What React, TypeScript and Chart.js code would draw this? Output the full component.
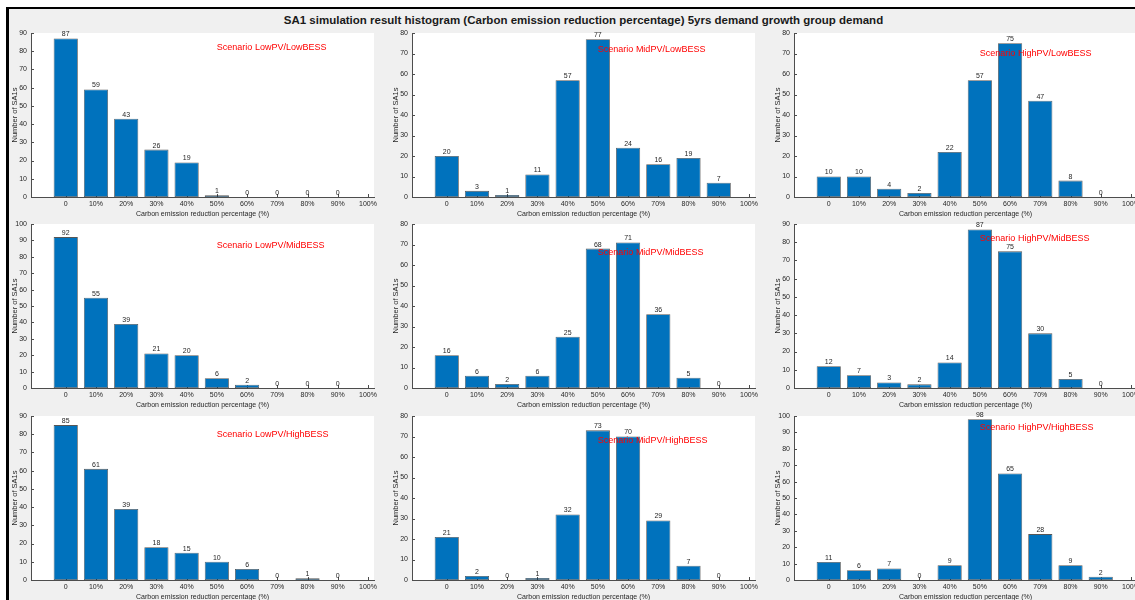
import React, { useEffect, useRef } from 'react';
import { Chart, registerables } from 'chart.js';

Chart.register(...registerables);

// ---------- data ----------
const xLabels = ['0', '10%', '20%', '30%', '40%', '50%', '60%', '70%', '80%', '90%', '100%'];
const binIndex = [0, 1, 2, 3, 4, 5, 6, 7, 8, 9];

const lowPVLowBESS = [87, 59, 43, 26, 19, 1, 0, 0, 0, 0];
const midPVLowBESS = [20, 3, 1, 11, 57, 77, 24, 16, 19, 7];
const highPVLowBESS = [10, 10, 4, 2, 22, 57, 75, 47, 8, 0];
const lowPVMidBESS = [92, 55, 39, 21, 20, 6, 2, 0, 0, 0];
const midPVMidBESS = [16, 6, 2, 6, 25, 68, 71, 36, 5, 0];
const highPVMidBESS = [12, 7, 3, 2, 14, 87, 75, 30, 5, 0];
const lowPVHighBESS = [85, 61, 39, 18, 15, 10, 6, 0, 1, 0];
const midPVHighBESS = [21, 2, 0, 1, 32, 73, 70, 29, 7, 0];
const highPVHighBESS = [11, 6, 7, 0, 9, 98, 65, 28, 9, 2];

const seriesList = [
  lowPVLowBESS, midPVLowBESS, highPVLowBESS,
  lowPVMidBESS, midPVMidBESS, highPVMidBESS,
  lowPVHighBESS, midPVHighBESS, highPVHighBESS,
];
const scenarioNames = [
  'Scenario LowPV/LowBESS', 'Scenario MidPV/LowBESS', 'Scenario HighPV/LowBESS',
  'Scenario LowPV/MidBESS', 'Scenario MidPV/MidBESS', 'Scenario HighPV/MidBESS',
  'Scenario LowPV/HighBESS', 'Scenario MidPV/HighBESS', 'Scenario HighPV/HighBESS',
];
const yMaxes = [90, 80, 80, 100, 80, 90, 90, 80, 100];
const scenarioTextX = 5;
const scenarioTextY = [82, 72, 70, 87, 66, 82, 80, 68, 93];

const mainTitle = 'SA1 simulation result histogram (Carbon emission reduction percentage) 5yrs demand growth group demand';
const xTitle = 'Carbon emission reduction percentage (%)';
const yTitle = 'Number of SA1s';

// ---------- layout / style ----------
const FONT = "'Liberation Sans', Arial, Helvetica, sans-serif";
const TXT = '#262626';
const AXIS = '#4d4d4d';
const BAR = '#0072BD';
const colAxisX = [31, 412, 794];
const rowTop = [33, 224, 416];
const PLOT_W = 343;
const PLOT_H = 164;
const PL = 30; // room left of axis
const PT = 14; // room above plot
const PR = 14; // room right of plot
const PB = 22; // room below axis

const bgPlugin = {
  id: 'whiteArea',
  beforeDraw(chart: any) {
    const { ctx, chartArea } = chart;
    ctx.save();
    ctx.fillStyle = '#ffffff';
    ctx.fillRect(chartArea.left, chartArea.top, chartArea.right - chartArea.left, chartArea.bottom - chartArea.top);
    ctx.restore();
  },
};

const inwardTicks = {
  id: 'inwardTicks',
  beforeDatasetsDraw(chart: any) {
    const { ctx, chartArea, scales } = chart;
    ctx.save();
    ctx.strokeStyle = AXIS;
    ctx.lineWidth = 1;
    ctx.beginPath();
    scales.y.ticks.forEach((t: any) => {
      const y = Math.round(scales.y.getPixelForValue(t.value)) + 0.5;
      ctx.moveTo(chartArea.left, y);
      ctx.lineTo(chartArea.left + 3, y);
    });
    scales.x.ticks.forEach((t: any) => {
      const x = Math.round(scales.x.getPixelForValue(t.value)) + 0.5;
      ctx.moveTo(x, chartArea.bottom);
      ctx.lineTo(x, chartArea.bottom - 3);
    });
    ctx.stroke();
    ctx.restore();
  },
};

function makeLabelPlugin(name: string, ty: number) {
  return {
    id: 'valueLabels',
    afterDatasetsDraw(chart: any) {
      const { ctx, scales } = chart;
      const meta = chart.getDatasetMeta(0);
      const ds = chart.data.datasets[0].data as any[];
      ctx.save();
      ctx.fillStyle = TXT;
      ctx.font = `7px ${FONT}`;
      ctx.textAlign = 'center';
      ctx.textBaseline = 'bottom';
      meta.data.forEach((el: any, i: number) => {
        ctx.fillText(String(ds[i].y), el.x, el.y - 0.5);
      });
      ctx.fillStyle = '#ff0000';
      ctx.font = `9px ${FONT}`;
      ctx.textAlign = 'left';
      ctx.textBaseline = 'middle';
      ctx.fillText(name, scales.x.getPixelForValue(scenarioTextX), scales.y.getPixelForValue(ty));
      ctx.restore();
    },
  };
}

function Subplot({ idx }: { idx: number }) {
  const ref = useRef<HTMLCanvasElement>(null);
  const col = idx % 3;
  const row = Math.floor(idx / 3);
  const w = PL + PLOT_W + PR;
  const h = PT + PLOT_H + PB;
  const left = colAxisX[col] - PL;
  const top = rowTop[row] - PT;

  useEffect(() => {
    const values = seriesList[idx];
    const chart = new Chart(ref.current as HTMLCanvasElement, {
      type: 'bar',
      data: {
        datasets: [
          {
            data: values.map((v, i) => ({ x: binIndex[i], y: v })),
            backgroundColor: BAR,
            borderColor: 'rgba(30,30,30,0.75)',
            borderWidth: 0.8,
            borderSkipped: false,
            barPercentage: 0.8,
            categoryPercentage: 1,
          } as any,
        ],
      },
      options: {
        responsive: false,
        animation: false,
        layout: { padding: { top: PT, right: PR, left: 0, bottom: 0 } },
        plugins: {
          legend: { display: false },
          tooltip: { enabled: false },
          title: { display: false },
        },
        scales: {
          x: {
            type: 'linear',
            min: -1.15,
            max: 10.2,
            offset: false,
            grid: { display: false, drawTicks: false, offset: false },
            border: { display: true, color: AXIS, width: 1 },
            afterBuildTicks: (s: any) => {
              s.ticks = xLabels.map((_, i) => ({ value: i }));
            },
            afterFit: (s: any) => {
              s.height = PB;
            },
            ticks: {
              autoSkip: false,
              maxRotation: 0,
              minRotation: 0,
              padding: 3,
              color: TXT,
              font: { size: 7, family: FONT },
              callback: (v: any) => xLabels[v] ?? '',
            },
            title: {
              display: true,
              text: xTitle,
              color: TXT,
              font: { size: 7, family: FONT },
              padding: { top: 0, bottom: 1 },
            },
          },
          y: {
            min: 0,
            max: yMaxes[idx],
            grid: { display: false, drawTicks: false },
            border: { display: true, color: AXIS, width: 1 },
            afterFit: (s: any) => {
              s.width = PL;
            },
            ticks: {
              stepSize: 10,
              padding: 4,
              color: TXT,
              font: { size: 7, family: FONT },
            },
            title: {
              display: true,
              text: yTitle,
              color: TXT,
              font: { size: 7.5, family: FONT },
              padding: { top: 9.5, bottom: 0 },
            },
          },
        },
      } as any,
      plugins: [bgPlugin, inwardTicks, makeLabelPlugin(scenarioNames[idx], scenarioTextY[idx])],
    });
    return () => chart.destroy();
  }, [idx]);

  return (
    <canvas
      ref={ref}
      width={w}
      height={h}
      style={{ position: 'absolute', left, top, width: w, height: h }}
    />
  );
}

export default function App() {
  return (
    <div
      style={{
        position: 'fixed',
        left: 0,
        top: 0,
        width: 1135,
        height: 600,
        background: '#ffffff',
        overflow: 'hidden',
      }}
    >
      <div
        style={{
          position: 'absolute',
          left: 6,
          top: 7,
          width: 1135 - 6,
          height: 600 - 7,
          background: '#f0f0f0',
          borderTop: '2px solid #000',
          borderLeft: '3px solid #000',
          boxSizing: 'border-box',
        }}
      />
      <div
        style={{
          position: 'absolute',
          left: 0,
          top: 13,
          width: 1167,
          textAlign: 'center',
          fontFamily: FONT,
          fontWeight: 'bold',
          fontSize: 11.5,
          lineHeight: '14px',
          color: '#1a1a1a',
          whiteSpace: 'nowrap',
        }}
      >
        {mainTitle}
      </div>
      {seriesList.map((_, i) => (
        <Subplot key={i} idx={i} />
      ))}
    </div>
  );
}
